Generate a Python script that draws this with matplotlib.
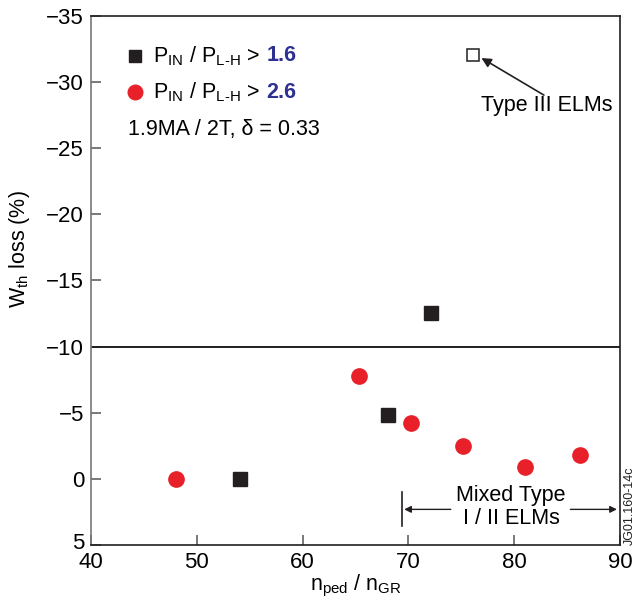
import matplotlib
matplotlib.use("Agg")
import matplotlib.pyplot as plt
from matplotlib.transforms import ScaledTranslation

plt.rcParams.update({
    "font.family": ["Liberation Sans", "DejaVu Sans"],
    "font.size": 15.5,
    "mathtext.fontset": "custom",
    "mathtext.rm": "Liberation Sans",
})

BLACK = "#231F20"
RED = "#E8202A"
NAVY = "#2E3192"

# P_IN / P_L-H > 1.6
ned_16 = [54.1, 68.1, 72.1]
wloss_16 = [0.0, -4.8, -12.5]
# P_IN / P_L-H > 2.6
ned_26 = [48.0, 65.3, 70.2, 75.2, 81.0, 86.2]
wloss_26 = [0.0, -7.8, -4.2, -2.5, -0.9, -1.8]
# Type III ELMs
ned_t3 = [76.1]
wloss_t3 = [-32.0]

x_ticks = [40, 50, 60, 70, 80, 90]
y_ticks = [-35, -30, -25, -20, -15, -10, -5, 0, 5]
split_level = -10

fig = plt.figure(figsize=(6.36, 6.03), dpi=100)
ax = fig.add_axes([0.143, 0.096, 0.832, 0.878])

ax.plot(ned_16, wloss_16, ls="none", marker="s", ms=10, color=BLACK, zorder=3)
ax.plot(ned_26, wloss_26, ls="none", marker="o", ms=11, color=RED, zorder=3)
ax.plot(ned_t3, wloss_t3, ls="none", marker="s", ms=8.5, mfc="white",
        mec=BLACK, mew=1.1, zorder=3)

ax.axhline(split_level, color=BLACK, lw=1.4, zorder=2)

ax.set_xlim(40, 90)
ax.set_ylim(5, -35)
ax.set_xticks(x_ticks)
ax.set_yticks(y_ticks)
ax.tick_params(direction="in", length=7, width=1.1, color="#555555",
               labelsize=16)
ax.tick_params(axis="y", pad=5)
ax.tick_params(axis="x", pad=5)
for side in ["top", "right", "bottom"]:
    ax.spines[side].set_color(BLACK)
    ax.spines[side].set_linewidth(1.2)
ax.spines["left"].set_color("#777777")
ax.spines["left"].set_linewidth(1.2)

# lift the bottom y label a touch so it clears the "40"
fig.canvas.draw()
bottom_lab = ax.get_yticklabels()[-1]
bottom_lab.set_transform(bottom_lab.get_transform()
                         + ScaledTranslation(0, 0.04, fig.dpi_scale_trans))

ax.set_xlabel(r"$\mathregular{n_{ped}}$ / $\mathregular{n_{GR}}$", labelpad=0)
ax.set_ylabel(r"$\mathregular{W_{th}}$ loss (%)")
ax.yaxis.set_label_coords(-0.112, 0.56)

# legend-style key in the upper left
ax.plot([0.083], [0.924], transform=ax.transAxes, marker="s", ms=9,
        color=BLACK, clip_on=False)
ax.plot([0.083], [0.855], transform=ax.transAxes, marker="o", ms=10.5,
        color=RED, clip_on=False)
lab = r"$\mathregular{P_{IN}}$ / $\mathregular{P_{L\text{-}H}}$ >"
t1 = ax.text(0.118, 0.924, lab, transform=ax.transAxes, va="center")
ax.annotate("1.6", xy=(1, 0.5), xycoords=t1, xytext=(4.5, 0),
            textcoords="offset points", va="center", ha="left",
            fontweight="bold", color=NAVY)
t2 = ax.text(0.118, 0.855, lab, transform=ax.transAxes, va="center")
ax.annotate("2.6", xy=(1, 0.5), xycoords=t2, xytext=(4.5, 0),
            textcoords="offset points", va="center", ha="left",
            fontweight="bold", color=NAVY)
ax.text(0.070, 0.785, "1.9MA / 2T, δ = 0.33", transform=ax.transAxes,
        va="center")

# Type III annotation
ax.annotate("", xy=(76.9, -31.8), xytext=(82.8, -29.0),
            arrowprops=dict(arrowstyle="-|>", color=BLACK, lw=1.2,
                            mutation_scale=14, shrinkA=0, shrinkB=0))
ax.text(83.1, -28.2, "Type III ELMs", ha="center", va="center")

# Mixed Type I / II range
ax.plot([69.4, 69.4], [0.95, 3.55], color=BLACK, lw=1.2)
ax.annotate("", xy=(69.6, 2.3), xytext=(74.0, 2.3),
            arrowprops=dict(arrowstyle="-|>", color=BLACK, lw=1.0,
                            mutation_scale=10, shrinkA=0, shrinkB=0))
ax.annotate("", xy=(89.7, 2.3), xytext=(85.3, 2.3),
            arrowprops=dict(arrowstyle="-|>", color=BLACK, lw=1.0,
                            mutation_scale=10, shrinkA=0, shrinkB=0))
ax.text(79.7, 2.1, "Mixed Type\nI / II ELMs", ha="center", va="center",
        linespacing=1.1)

fig.text(0.999, 0.162, "JG01.160-14c", rotation=90, ha="right", va="center",
         fontsize=9, color=BLACK)

fig.savefig("out.png", dpi=100)
